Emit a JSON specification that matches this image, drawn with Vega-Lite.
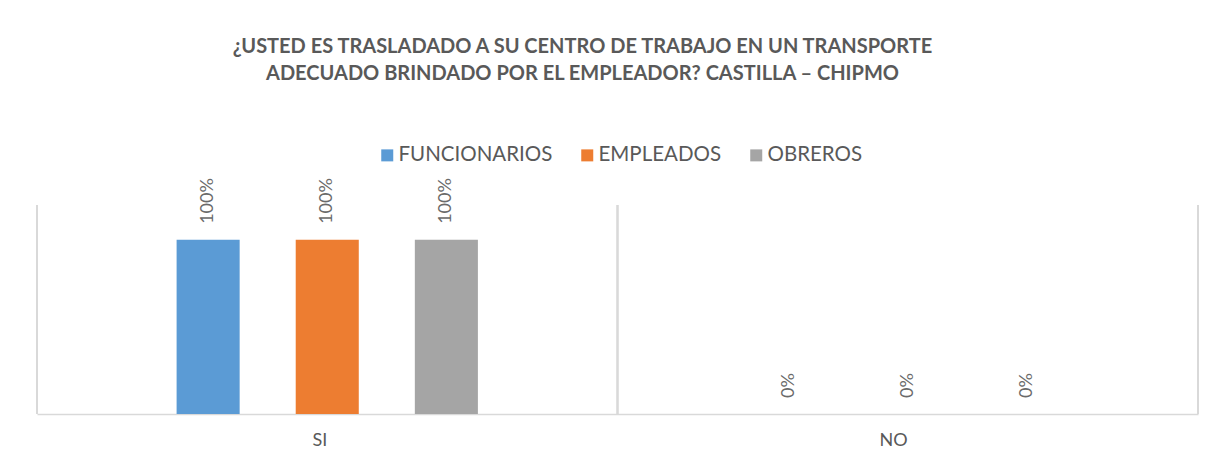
{
  "$schema": "https://vega.github.io/schema/vega-lite/v6.json",
  "width": 1161,
  "height": 209,
  "autosize": {"type": "none"},
  "padding": {"left": 37, "top": 205, "right": 13, "bottom": 52},
  "background": "white",
  "config": {
    "font": "Lato",
    "view": {"stroke": null}
  },
  "title": {
    "text": ["¿USTED ES TRASLADADO A SU CENTRO DE TRABAJO EN UN TRANSPORTE", "ADECUADO BRINDADO POR EL EMPLEADOR? CASTILLA – CHIPMO"],
    "fontSize": 20,
    "fontWeight": "bold",
    "color": "#595959",
    "anchor": "middle",
    "dx": -35,
    "lineHeight": 27,
    "offset": 61
  },
  "data": {
    "values": [
      {"respuesta": "SI", "grupo": "FUNCIONARIOS", "valor": 1},
      {"respuesta": "SI", "grupo": "EMPLEADOS", "valor": 1},
      {"respuesta": "SI", "grupo": "OBREROS", "valor": 1},
      {"respuesta": "NO", "grupo": "FUNCIONARIOS", "valor": 0},
      {"respuesta": "NO", "grupo": "EMPLEADOS", "valor": 0},
      {"respuesta": "NO", "grupo": "OBREROS", "valor": 0}
    ]
  },
  "layer": [
    {
      "mark": {"type": "rule", "color": "#d9d9d9", "strokeWidth": 1.5},
      "encoding": {
        "x": {"field": "respuesta", "type": "nominal", "bandPosition": 0, "sort": ["SI", "NO"]}
      }
    },
    {
      "mark": {"type": "rule", "color": "#d9d9d9", "strokeWidth": 1.5},
      "encoding": {
        "x": {"field": "respuesta", "type": "nominal", "bandPosition": 1, "sort": ["SI", "NO"]}
      }
    },
    {
      "mark": {"type": "bar"},
      "encoding": {
        "x": {
          "field": "respuesta", "type": "nominal", "sort": ["SI", "NO"],
          "scale": {"paddingInner": 0, "paddingOuter": 0},
          "axis": {
            "title": null, "labelAngle": 0, "labelFontSize": 18, "labelColor": "#595959",
            "domainColor": "#d9d9d9", "domainWidth": 1.5, "ticks": false, "grid": false,
            "labelPadding": 26
          }
        },
        "xOffset": {
          "field": "grupo", "type": "nominal",
          "scale": {"domain": ["_a", "FUNCIONARIOS", "EMPLEADOS", "OBREROS", "_b"], "paddingInner": 0.4706, "paddingOuter": 0.172}
        },
        "y": {"field": "valor", "type": "quantitative", "scale": {"domain": [0, 1.2]}, "axis": null},
        "color": {
          "field": "grupo", "type": "nominal",
          "scale": {"domain": ["FUNCIONARIOS", "EMPLEADOS", "OBREROS"], "range": ["#5B9BD5", "#ED7D31", "#A5A5A5"]},
          "legend": {
            "title": null, "orient": "none", "direction": "horizontal",
            "legendX": 340, "legendY": -60, "padding": 0,
            "symbolType": "square", "symbolSize": 144, "symbolStrokeWidth": 0,
            "labelFontSize": 20.5, "labelColor": "#595959", "labelOffset": 1,
            "columnPadding": 24
          }
        }
      }
    },
    {
      "mark": {"type": "text", "angle": 270, "align": "left", "baseline": "middle", "dx": 16, "fontSize": 18, "color": "#6a6a6a"},
      "encoding": {
        "x": {"field": "respuesta", "type": "nominal", "sort": ["SI", "NO"]},
        "xOffset": {"field": "grupo", "type": "nominal"},
        "y": {"field": "valor", "type": "quantitative"},
        "text": {"field": "valor", "type": "quantitative", "format": ".0%"}
      }
    }
  ]
}
